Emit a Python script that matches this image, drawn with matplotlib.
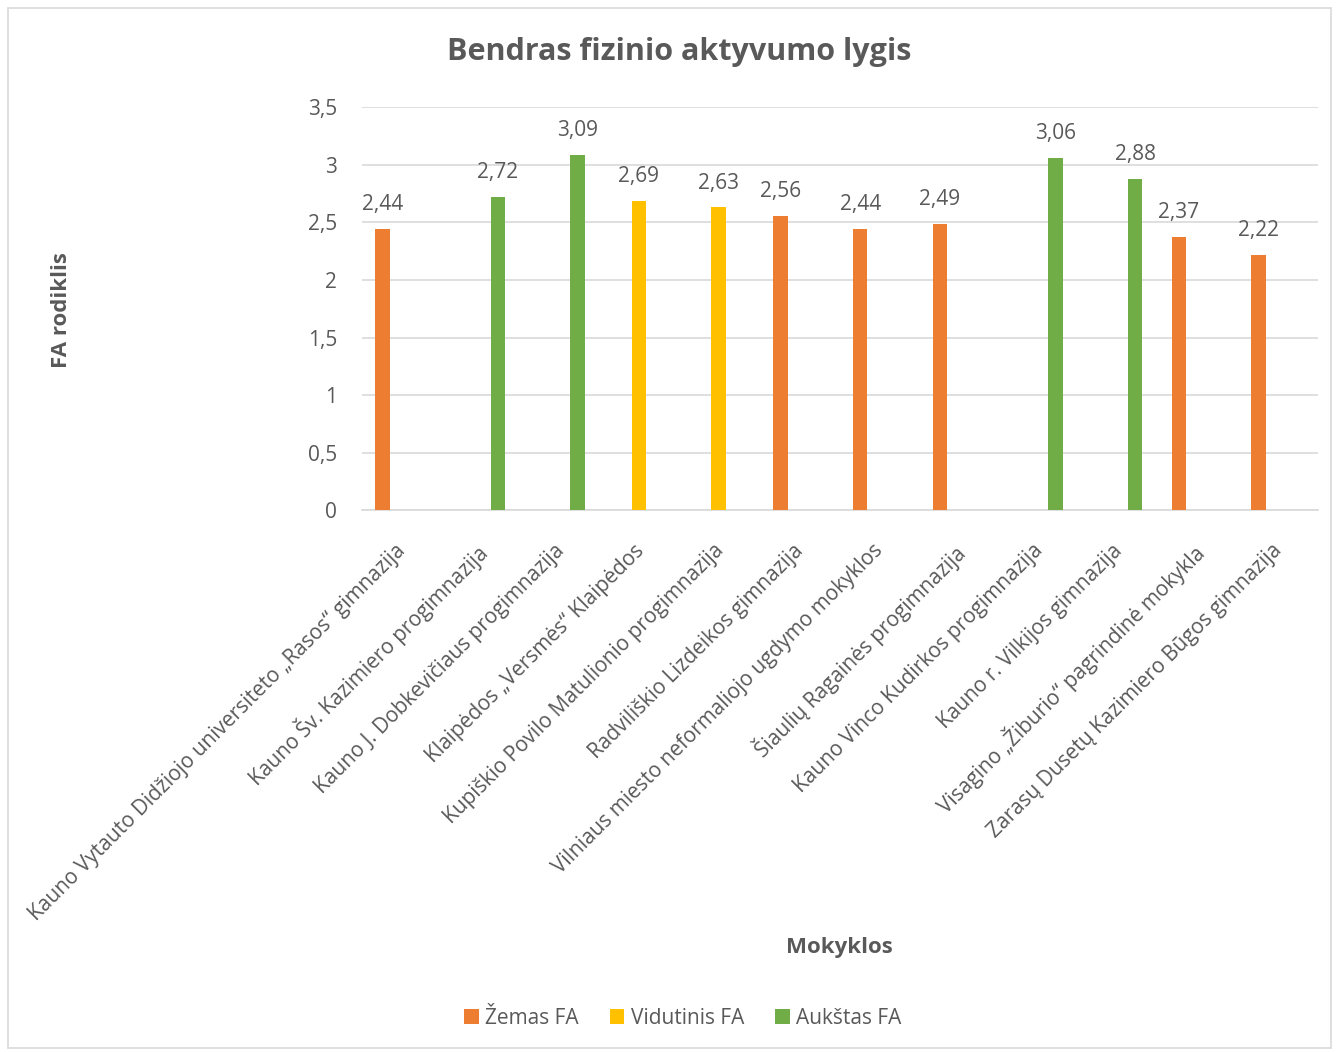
import numpy as np
import matplotlib.pyplot as plt
import matplotlib.transforms as mtransforms
from matplotlib.ticker import FuncFormatter
from matplotlib.patches import Rectangle

# Duomenys
mokyklos = [
    'Kauno Vytauto Didžiojo universiteto „Rasos“ gimnazija',
    'Kauno Šv. Kazimiero progimnazija',
    'Kauno J. Dobkevičiaus progimnazija',
    'Klaipėdos „Versmės“ Klaipėdos',
    'Kupiškio Povilo Matulionio progimnazija',
    'Radviliškio Lizdeikos gimnazija',
    'Vilniaus miesto neformaliojo ugdymo mokyklos',
    'Šiaulių Ragainės progimnazija',
    'Kauno Vinco Kudirkos progimnazija',
    'Kauno r. Vilkijos gimnazija',
    'Visagino „Žiburio“ pagrindinė mokykla',
    'Zarasų Dusetų Kazimiero Būgos gimnazija',
]
zemas     = [2.44, None, None, None, None, 2.56, 2.44, 2.49, None, None, 2.37, 2.22]
vidutinis = [None, None, None, 2.69, 2.63, None, None, None, None, None, None, None]
aukstas   = [None, 2.72, 3.09, None, None, None, None, None, 3.06, 2.88, None, None]

serijos = ['Žemas FA', 'Vidutinis FA', 'Aukštas FA']
spalvos = ['#ED7D31', '#FFC000', '#70AD47']

plt.rcParams['font.family'] = ['Open Sans', 'DejaVu Sans']
pilka = '#595959'

fig = plt.figure(figsize=(13.36, 10.52), dpi=100)
ax = fig.add_axes([0.271, 0.515, 0.7155, 0.383])

x = np.arange(len(mokyklos))
plotis = 0.18
poslinkiai = [-0.245, -0.025, 0.205]

for vals, lab, col, dx in zip([zemas, vidutinis, aukstas], serijos, spalvos, poslinkiai):
    v = np.array([np.nan if a is None else a for a in vals])
    bars = ax.bar(x + dx, np.nan_to_num(v), width=plotis, color=col, label=lab, zorder=3)
    for b, val in zip(bars, v):
        if not np.isnan(val):
            ax.annotate(f'{val:.2f}'.replace('.', ','),
                        (b.get_x() + b.get_width() / 2, val),
                        xytext=(0, 10), textcoords='offset points',
                        ha='center', va='bottom', fontsize=15, color=pilka)

ax.set_xlim(-0.5, len(mokyklos) - 0.5)
ax.set_ylim(0, 3.5)
ax.set_yticks(np.arange(0, 3.51, 0.5))
ax.yaxis.set_major_formatter(FuncFormatter(lambda v, p: f'{v:g}'.replace('.', ',')))
ax.grid(axis='y', color='#D9D9D9', linewidth=1.2, zorder=0)
for s in ['top', 'right', 'left']:
    ax.spines[s].set_visible(False)
ax.spines['bottom'].set_color('#D9D9D9')
ax.spines['bottom'].set_linewidth(1.2)
ax.tick_params(axis='both', length=0, labelsize=15, colors=pilka)
ax.tick_params(axis='y', pad=18)
ax.tick_params(axis='x', pad=10)

ax.set_xticks(x)
ax.set_xticklabels(mokyklos, rotation=45, ha='right', rotation_mode='anchor', fontsize=15)
poslinkis = mtransforms.ScaledTranslation(-7 / 100, -16 / 100, fig.dpi_scale_trans)
for t in ax.get_xticklabels():
    t.set_color(pilka)
    t.set_transform(t.get_transform() + poslinkis)

fig.text(0.508, 0.951, 'Bendras fizinio aktyvumo lygis', ha='center', va='center',
         fontsize=22, fontweight='bold', color=pilka)
fig.text(0.046, 0.705, 'FA rodiklis', rotation=90, ha='center', va='center',
         fontsize=16, fontweight='bold', color=pilka)
fig.text(0.628, 0.099, 'Mokyklos', ha='center', va='center',
         fontsize=16, fontweight='bold', color=pilka)

leg = fig.legend(loc='center', bbox_to_anchor=(0.511, 0.032), ncol=3, frameon=False,
                 fontsize=15, handlelength=0.7, handleheight=0.7, handletextpad=0.3,
                 columnspacing=1.5, labelcolor=pilka)

fig.patches.append(Rectangle((0.006, 0.004), 0.99, 0.988, transform=fig.transFigure,
                             fill=False, edgecolor='#D9D9D9', linewidth=1.2))

fig.savefig('out.png', dpi=100)
